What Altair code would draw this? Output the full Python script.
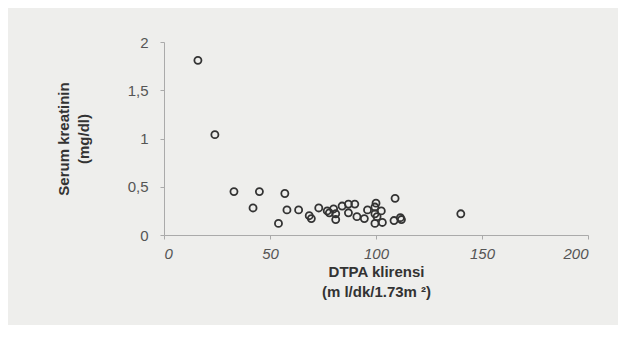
import altair as alt
import pandas as pd

dtpa = [16, 24, 33, 45, 57, 42, 58, 63.5, 54, 68.5, 69.5, 73, 77, 78, 80, 81, 81,
        84, 87, 90, 87, 91, 94.5, 96, 100, 99.5, 99.5, 102.5, 100.5, 99.5, 103,
        109, 108.5, 111.5, 112, 140]
kreatinin = [1.81, 1.04, 0.45, 0.45, 0.43, 0.28, 0.26, 0.26, 0.12, 0.20, 0.17, 0.28,
             0.25, 0.23, 0.27, 0.22, 0.16, 0.30, 0.32, 0.32, 0.23, 0.19, 0.17, 0.26,
             0.33, 0.29, 0.22, 0.25, 0.19, 0.12, 0.13, 0.38, 0.15, 0.18, 0.16, 0.22]
x_ticks = [0, 50, 100, 150, 200]
y_ticks = [0, 0.5, 1, 1.5, 2]

df = pd.DataFrame({"dtpa": dtpa, "kreatinin": kreatinin})

chart = alt.Chart(df).mark_point(
    shape="circle", filled=False, color="#333333", strokeWidth=1.8, size=50, opacity=1
).encode(
    x=alt.X("dtpa:Q",
            scale=alt.Scale(domain=[0, 200], nice=False, zero=True),
            axis=alt.Axis(values=x_ticks, title=["DTPA klirensi", "(m l/dk/1.73m ²)"],
                          titleFont="Liberation Sans", titleFontSize=15, titleFontWeight="bold",
                          titleColor="#333333", titlePadding=3, titleLineHeight=20,
                          labelFont="Liberation Sans", labelFontSize=15, labelColor="#555555",
                          labelPadding=7, labelFontStyle="italic",
                          domainColor="#aaaaaa", tickColor="#aaaaaa", tickSize=4,
                          grid=False)),
    y=alt.Y("kreatinin:Q",
            scale=alt.Scale(domain=[0, 2], nice=False),
            axis=alt.Axis(values=y_ticks, title=["Serum kreatinin", "(mg/dl)"],
                          labelExpr="replace(format(datum.value, '~g'), '.', ',')",
                          titleFont="Liberation Sans", titleFontSize=15, titleFontWeight="bold",
                          titleColor="#333333", titlePadding=36, titleLineHeight=20,
                          labelFont="Liberation Sans", labelFontSize=15, labelColor="#555555",
                          labelPadding=12,
                          domainColor="#aaaaaa", tickColor="#aaaaaa", tickSize=4,
                          grid=False)),
).properties(
    width=424, height=193,
    background="#eeeeec",
    padding={"left": 156, "top": 34, "right": 30, "bottom": 90},
    autosize=alt.AutoSizeParams(type="none"),
).configure_view(stroke=None, fill="#eeeeec")

chart.save("out.html", embed_options={"renderer": "svg", "actions": False})
